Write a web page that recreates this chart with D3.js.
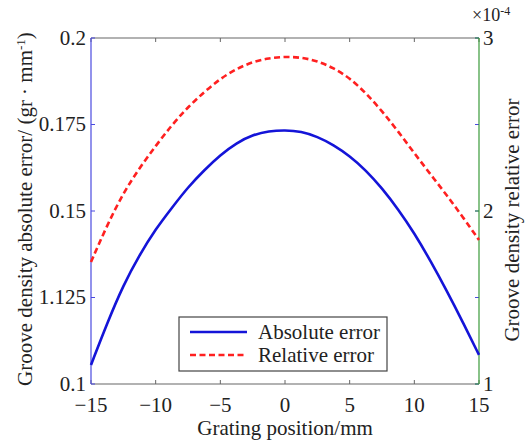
<!DOCTYPE html>
<html>
<head>
<meta charset="utf-8">
<script src="https://cdn.jsdelivr.net/npm/d3@7"></script>
<style>
  body { margin: 0; background: #fff; }
  svg text { font-family: "Liberation Serif", "Times New Roman", serif; }
</style>
</head>
<body>
<div id="chart-area"></div>
<script>
// grating position (mm)
const positions = [-15, -13.75, -12.5, -11.25, -10, -8.75, -7.5, -6.25, -5, -3.75, -2.5, -1.25, 0,
                   1.25, 2.5, 3.75, 5, 6.25, 7.5, 8.75, 10, 11.25, 12.5, 13.75, 15];
// absolute error (gr/mm)
const absError = [0.1055, 0.1176, 0.1286, 0.1373, 0.1448, 0.1509, 0.1569, 0.1618, 0.1662, 0.1697, 0.1720, 0.1731, 0.1734,
                  0.1730, 0.1715, 0.1691, 0.1659, 0.1618, 0.1566, 0.1505, 0.1436, 0.1356, 0.1270, 0.1179, 0.1084];
// relative error (x1e-4)
const relError = [1.705, 1.919, 2.104, 2.249, 2.376, 2.497, 2.601, 2.688, 2.765, 2.822, 2.862, 2.884, 2.892,
                  2.888, 2.867, 2.827, 2.769, 2.682, 2.578, 2.460, 2.334, 2.212, 2.092, 1.965, 1.832];

const xTicks = [-15, -10, -5, 0, 5, 10, 15];
const leftTicks = [0.1, 0.125, 0.15, 0.175, 0.2];
const leftTickLabels = ["0.1", "1.125", "0.15", "0.175", "0.2"];
const rightTicks = [1, 2, 3];

const margin = {top: 38, right: 52, bottom: 57, left: 91};
const W = 531, H = 441;
const width = W - margin.left - margin.right;
const height = H - margin.top - margin.bottom;

const svg = d3.select('#chart-area')
    .append('svg')
    .attr('width', W)
    .attr('height', H);

const g = svg.append('g')
    .attr('transform', `translate(${margin.left}, ${margin.top})`);

const x = d3.scaleLinear().domain([-15, 15]).range([0, width]);
const yL = d3.scaleLinear().domain([0.1, 0.2]).range([height, 0]);
const yR = d3.scaleLinear().domain([1, 3]).range([height, 0]);

const blue = '#1414d8';
const red = '#ff2020';
const leftAxisColor = '#4a4ae0';
const rightAxisColor = '#3a9a3a';
const boxColor = '#666';
const textColor = '#222';

// top & bottom box lines
g.append('line').attr('x1', 0).attr('x2', width).attr('y1', 0).attr('y2', 0)
    .attr('stroke', boxColor).attr('stroke-width', 1.2);
g.append('line').attr('x1', 0).attr('x2', width).attr('y1', height).attr('y2', height)
    .attr('stroke', boxColor).attr('stroke-width', 1.2);

// x ticks (inward, bottom and top)
xTicks.forEach(t => {
    g.append('line').attr('x1', x(t)).attr('x2', x(t)).attr('y1', height).attr('y2', height - 4)
        .attr('stroke', boxColor);
    g.append('line').attr('x1', x(t)).attr('x2', x(t)).attr('y1', 0).attr('y2', 4)
        .attr('stroke', boxColor);
    g.append('text').attr('x', x(t)).attr('y', height + 28)
        .attr('text-anchor', 'middle').style('font-size', '21px').attr('fill', textColor)
        .text(t < 0 ? '\u2212' + Math.abs(t) : t);
});

// left axis
g.append('line').attr('x1', 0).attr('x2', 0).attr('y1', 0).attr('y2', height)
    .attr('stroke', leftAxisColor).attr('stroke-width', 1.2);
leftTicks.forEach((t, i) => {
    g.append('line').attr('x1', 0).attr('x2', 4).attr('y1', yL(t)).attr('y2', yL(t))
        .attr('stroke', leftAxisColor);
    g.append('line').attr('x1', width).attr('x2', width - 4).attr('y1', yL(t)).attr('y2', yL(t))
        .attr('stroke', leftAxisColor);
    g.append('text').attr('x', -5).attr('y', yL(t)).attr('dy', '0.33em')
        .attr('text-anchor', 'end').style('font-size', '21px').attr('fill', textColor)
        .text(leftTickLabels[i]);
});

// right axis
g.append('line').attr('x1', width).attr('x2', width).attr('y1', 0).attr('y2', height)
    .attr('stroke', rightAxisColor).attr('stroke-width', 1.2);
rightTicks.forEach(t => {
    g.append('line').attr('x1', width).attr('x2', width - 4).attr('y1', yR(t)).attr('y2', yR(t))
        .attr('stroke', rightAxisColor);
    g.append('text').attr('x', width + 4).attr('y', yR(t)).attr('dy', '0.33em')
        .style('font-size', '21px').attr('fill', textColor).text(t);
});
const mult = g.append('text').attr('x', width - 7).attr('y', -17)
    .style('font-size', '18px').attr('fill', textColor);
mult.append('tspan').text('\u00d710');
mult.append('tspan').attr('dy', -6).style('font-size', '12px').text('-4');

// lines
const pts = positions.map((p, i) => ({p, a: absError[i], r: relError[i]}));
g.append('path').datum(pts)
    .attr('fill', 'none').attr('stroke', blue).attr('stroke-width', 2.6)
    .attr('d', d3.line().x(d => x(d.p)).y(d => yL(d.a)).curve(d3.curveBasis));
g.append('path').datum(pts)
    .attr('fill', 'none').attr('stroke', red).attr('stroke-width', 2.6)
    .attr('stroke-dasharray', '6,3.5')
    .attr('d', d3.line().x(d => x(d.p)).y(d => yR(d.r)).curve(d3.curveBasis));

// axis titles
svg.append('text')
    .attr('transform', `translate(${margin.left + width / 2}, ${H - 6})`)
    .attr('text-anchor', 'middle').style('font-size', '21px').attr('fill', textColor)
    .text('Grating position/mm');

const lt = svg.append('text')
    .attr('transform', `translate(32, ${margin.top + height / 2 - 2}) rotate(-90)`)
    .attr('text-anchor', 'middle').style('font-size', '21px').attr('fill', textColor);
lt.append('tspan').text('Groove density absolute error/ (gr \u00b7 mm');
lt.append('tspan').attr('dy', -7).style('font-size', '13px').text('-1');
lt.append('tspan').attr('dy', 7).text(')');

svg.append('text')
    .attr('transform', `translate(519, 220) rotate(-90)`)
    .attr('text-anchor', 'middle').style('font-size', '21px').attr('fill', textColor)
    .text('Groove density relative error');

// legend
const lg = svg.append('g').attr('transform', 'translate(179, 317)');
lg.append('rect').attr('width', 208).attr('height', 54)
    .attr('fill', '#fff').attr('stroke', '#444').attr('stroke-width', 1.2);
lg.append('line').attr('x1', 11).attr('x2', 68).attr('y1', 15).attr('y2', 15)
    .attr('stroke', blue).attr('stroke-width', 2.6);
lg.append('line').attr('x1', 11).attr('x2', 68).attr('y1', 38).attr('y2', 38)
    .attr('stroke', red).attr('stroke-width', 2.6).attr('stroke-dasharray', '6,3.5');
lg.append('text').attr('x', 79).attr('y', 15).attr('dy', '0.33em').style('font-size', '21px')
    .attr('fill', textColor).text('Absolute error');
lg.append('text').attr('x', 79).attr('y', 38).attr('dy', '0.33em').style('font-size', '21px')
    .attr('fill', textColor).text('Relative error');
</script>
</body>
</html>
